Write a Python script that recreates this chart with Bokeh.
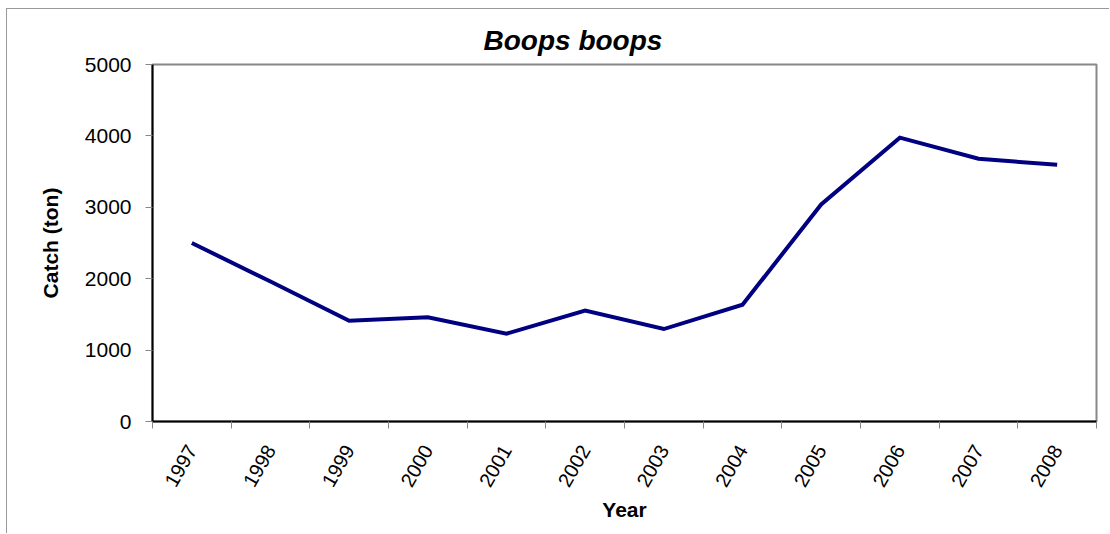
import math
from bokeh.plotting import figure
from bokeh.models import Range1d, FixedTicker, Title
from bokeh.embed import file_html
from bokeh.resources import INLINE

# Annual catch of Boops boops (tonnes)
years = ["1997", "1998", "1999", "2000", "2001", "2002",
         "2003", "2004", "2005", "2006", "2007", "2008"]
catch_ton = [2500, 1960, 1410, 1460, 1230, 1555, 1295, 1635, 3040, 3975, 3680, 3595]
y_ticks = [0, 1000, 2000, 3000, 4000, 5000]

FONT = "Liberation Sans"

# each year occupies one unit slot; the point sits in the middle of its slot
centers = [i + 0.5 for i in range(len(years))]
edges = list(range(len(years) + 1))

p = figure(
    width=1103, height=525,
    x_range=Range1d(0, len(years)), y_range=Range1d(0, 5000),
    output_backend="svg", toolbar_location=None,
    min_border_left=145, min_border_right=14,
    min_border_top=55, min_border_bottom=113,
)
p.styles = {
    "margin-left": "6px", "margin-top": "8px",
    "border-left": "1px solid #999999", "border-top": "1px solid #999999",
}

p.line(centers, catch_ton, line_color="#000080", line_width=4, line_join="miter")

p.xgrid.visible = False
p.ygrid.visible = False
p.outline_line_color = "#888888"
p.outline_line_width = 2

# x axis: labels at slot centres, tick marks at slot boundaries
xa = p.xaxis[0]
xa.ticker = FixedTicker(ticks=centers, minor_ticks=edges)
xa.major_label_overrides = {c: y for c, y in zip(centers, years)}
xa.major_tick_line_color = None
xa.minor_tick_line_color = "#888888"
xa.minor_tick_out = 7
xa.minor_tick_in = 0
xa.axis_line_color = "black"
xa.axis_line_width = 2
xa.major_label_orientation = math.radians(60)
xa.major_label_text_font = FONT
xa.major_label_text_font_size = "20px"
xa.major_label_text_color = "black"
xa.major_label_standoff = 18
xa.axis_label = "Year"
xa.axis_label_text_font = FONT
xa.axis_label_text_font_style = "bold"
xa.axis_label_text_font_size = "21px"
xa.axis_label_text_color = "black"
xa.axis_label_standoff = 3

ya = p.yaxis[0]
ya.ticker = FixedTicker(ticks=y_ticks)
ya.minor_tick_line_color = None
ya.major_tick_line_color = "#888888"
ya.major_tick_out = 7
ya.major_tick_in = 0
ya.axis_line_color = "black"
ya.axis_line_width = 2
ya.major_label_text_font = FONT
ya.major_label_text_font_size = "21px"
ya.major_label_text_color = "black"
ya.major_label_standoff = 14
ya.axis_label = "Catch (ton)"
ya.axis_label_text_font = FONT
ya.axis_label_text_font_style = "bold"
ya.axis_label_text_font_size = "21px"
ya.axis_label_text_color = "black"
ya.axis_label_standoff = 20

p.title = Title(text="Boops boops", align="left", offset=331)
p.title.text_font = FONT
p.title.text_font_style = "bold italic"
p.title.text_font_size = "28px"
p.title.text_color = "black"
p.title.standoff = 18

open("out.html", "w").write(file_html(p, INLINE))
